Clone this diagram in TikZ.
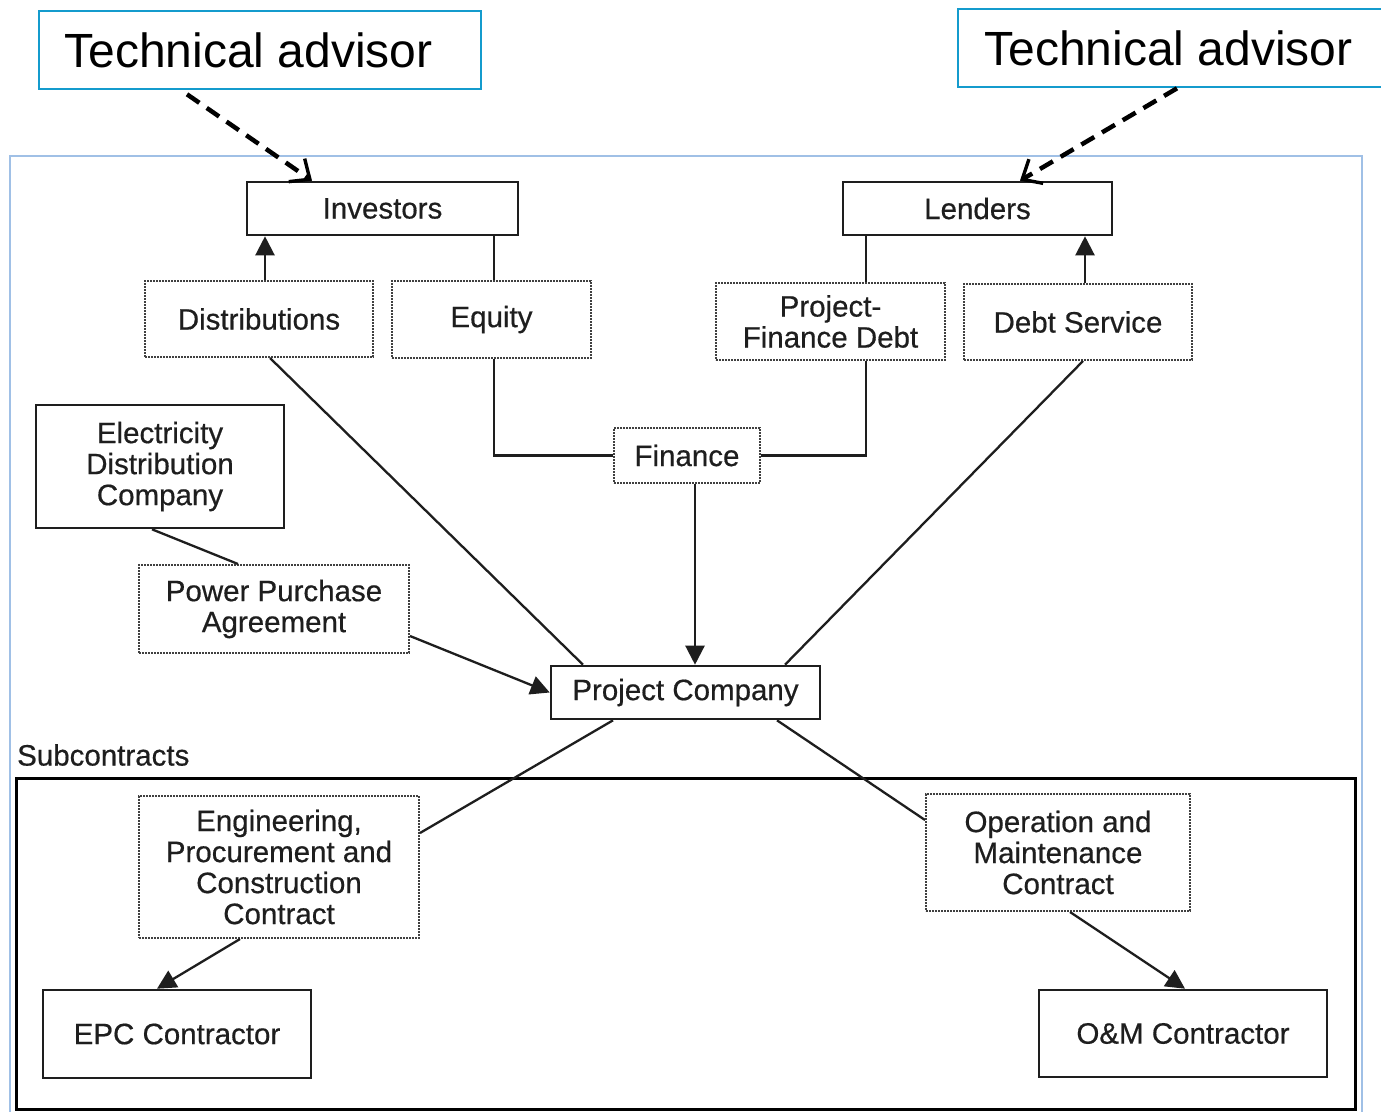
\documentclass[tikz,border=0pt]{standalone}
\usepackage{fontspec}
\setmainfont{Liberation Sans}
\newfontfamily\scanfont[FakeBold=0.5]{Liberation Sans}
\usetikzlibrary{arrows.meta}
\definecolor{advblue}{RGB}{20,155,205}
\definecolor{frameblue}{RGB}{160,192,230}
\definecolor{ink}{RGB}{30,30,30}
\tikzset{
  solidbox/.style={draw=ink, line width=2.6pt, inner sep=0pt, align=center, text=ink, font=\scanfont\fontsize{29.5}{31}\selectfont},
  dotbox/.style={draw=ink!85, line width=2pt, densely dotted, inner sep=0pt, align=center, text=ink, font=\scanfont\fontsize{29.5}{31}\selectfont},
  advbox/.style={draw=advblue, line width=2.6pt, inner sep=0pt, font=\fontsize{48}{50}\selectfont},
  conn/.style={draw=ink, line width=2.3pt},
  tri/.style={conn, -{Triangle[length=19pt, width=19pt]}},
  dasharrow/.style={draw=black, line width=4.5pt, dash pattern=on 15pt off 9pt, -{Straight Barb[length=16pt, width=28pt, line width=3.4pt]}},
}
\begin{document}
\begin{tikzpicture}[x=1pt, y=-1pt]
\useasboundingbox (0,0) rectangle (1381,1111);
\clip (0,0) rectangle (1381,1111);
\fill[white] (0,0) rectangle (1381,1111);
% outer frame
\draw[frameblue, line width=2.2pt] (10,156) rectangle (1362,1115);
% subcontracts frame
\draw[black, line width=3pt] (16,778) rectangle (1355,1109);
\node[anchor=west, text=ink, font=\scanfont\fontsize{29.5}{31}\selectfont, inner sep=0pt] (sublab) at (17,755) {Subcontracts};

% technical advisors
\node[advbox, minimum width=442pt, minimum height=78pt] (ta1) at (260,50) {\hspace*{-23pt}Technical advisor};
\node[advbox, minimum width=432pt, minimum height=78pt] (ta2) at (1174,48) {\hspace*{-11pt}Technical advisor};

% top row
\node[solidbox, minimum width=271pt, minimum height=53pt] (inv) at (382.5,208.5) {Investors};
\node[solidbox, minimum width=269pt, minimum height=53pt] (len) at (977.5,208.5) {Lenders};
\node[dotbox, minimum width=228pt, minimum height=76pt] (dist) at (259,319) {Distributions};
\node[dotbox, minimum width=199pt, minimum height=77pt] (eq) at (491.5,319.5) {Equity};
\node[dotbox, minimum width=229pt, minimum height=77pt] (pfd) at (830.5,321.5) {Project-\\Finance Debt};
\node[dotbox, minimum width=228pt, minimum height=76pt] (ds) at (1078,322) {Debt Service};
\node[dotbox, minimum width=146pt, minimum height=55pt] (fin) at (687,455.5) {Finance};
\node[solidbox, minimum width=269pt, minimum height=53pt] (pc) at (685.5,692.5) {Project Company};
\node[solidbox, minimum width=248pt, minimum height=123pt] (edc) at (160,466.5) {Electricity\\Distribution\\Company};
\node[dotbox, minimum width=270pt, minimum height=88pt] (ppa) at (274,609) {Power Purchase\\Agreement};
\node[dotbox, minimum width=280pt, minimum height=142pt] (epcc) at (279,867) {Engineering,\\Procurement and\\Construction\\Contract};
\node[dotbox, minimum width=264pt, minimum height=117pt] (omc) at (1058,852.5) {Operation and\\Maintenance\\Contract};
\node[solidbox, minimum width=268pt, minimum height=88pt] (epc) at (177,1034) {EPC Contractor};
\node[solidbox, minimum width=288pt, minimum height=87pt] (om) at (1183,1033.5) {O\&M Contractor};

% dashed advisor arrows
\draw[dasharrow] ([xshift=-73pt,yshift=-4pt]ta1.south) -- ([xshift=-70.5pt]inv.north);
\draw[dasharrow] ([xshift=3pt]ta2.south) -- ([xshift=42.5pt]len.north);

% investors / lenders links
\draw[tri] ([xshift=6pt]dist.north) -- ([xshift=6pt]dist.north |- inv.south);
\draw[conn] ([xshift=2.5pt]eq.north) -- ([xshift=2.5pt]eq.north |- inv.south);
\draw[conn] ([xshift=35.5pt]pfd.north) -- ([xshift=35.5pt]pfd.north |- len.south);
\draw[tri] ([xshift=7pt]ds.north) -- ([xshift=7pt]ds.north |- len.south);

% finance
\draw[conn] ([xshift=2.5pt]eq.south) |- (fin.west);
\draw[conn] ([xshift=35.5pt]pfd.south) |- (fin.east);
\draw[tri] ([xshift=8pt]fin.south) -- ([xshift=8pt]fin.south |- pc.north);

% diagonals to project company
\draw[conn] ([xshift=11pt]dist.south) -- ([xshift=-102.5pt]pc.north);
\draw[conn] ([xshift=5pt]ds.south) -- ([xshift=99.5pt]pc.north);
\draw[conn] ([xshift=-8pt]edc.south) -- ([xshift=-36pt]ppa.north);
\draw[tri] ([yshift=-27pt]ppa.east) -- (pc.west);

% subcontracts
\draw[conn] ([xshift=-72.5pt]pc.south) -- ([yshift=34pt]epcc.east);
\draw[conn] ([xshift=91.5pt]pc.south) -- ([yshift=32.5pt]omc.west);
\draw[tri] ([xshift=-39pt]epcc.south) -- ([xshift=-20pt]epc.north);
\draw[tri] ([xshift=12pt]omc.south) -- ([xshift=2pt]om.north);
\end{tikzpicture}
\end{document}
